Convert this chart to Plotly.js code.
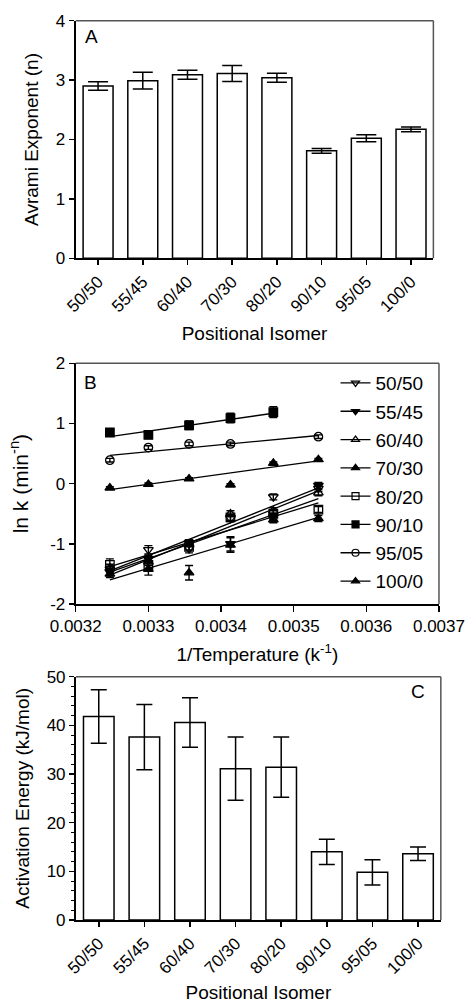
<!DOCTYPE html>
<html>
<head>
<meta charset="utf-8">
<script src="https://cdn.plot.ly/plotly-3.0.1.min.js"></script>
<style>html,body{margin:0;padding:0;background:#fff;}#chart{width:466px;height:1003px;}</style>
</head>
<body>
<div id="chart"></div>
<script>
// ---- Data ----
const isomers = ['50/50','55/45','60/40','70/30','80/20','90/10','95/05','100/0'];
const avrami = [2.90, 2.99, 3.09, 3.11, 3.04, 1.81, 2.02, 2.17];
const avramiErr = [0.07, 0.14, 0.075, 0.135, 0.075, 0.04, 0.06, 0.04];
const actEnergy = [41.8, 37.6, 40.6, 31.1, 31.4, 14.0, 9.8, 13.6];
const actEnergyErr = [5.5, 6.7, 5.1, 6.5, 6.2, 2.6, 2.6, 1.4];

const invT = [0.003247, 0.0033, 0.003356, 0.003413, 0.003472, 0.003534];
const invT9010 = [0.003247, 0.0033, 0.003356, 0.003413, 0.003472];
const invT9505 = [0.003247, 0.0033, 0.003356, 0.003413, 0.003534];

const lnk5050 = [-1.42, -1.10, -1.08, -0.58, -0.22, -0.08];
const err5050 = [0.05, 0.07, 0.07, 0.05, 0.05, 0.05];
const lnk5545 = [-1.47, -1.25, -0.98, -1.00, -0.55, -0.03];
const err5545 = [0.06, 0.06, 0.05, 0.12, 0.05, 0.05];
const lnk6040 = [-1.40, -1.30, -1.00, -0.50, -0.45, -0.15];
const err6040 = [0.06, 0.06, 0.05, 0.05, 0.05, 0.05];
const lnk7030 = [-1.50, -1.42, -1.48, -1.02, -0.60, -0.58];
const err7030 = [0.06, 0.10, 0.12, 0.12, 0.05, 0.05];
const lnk8020 = [-1.35, -1.35, -1.05, -0.56, -0.50, -0.43];
const err8020 = [0.10, 0.06, 0.05, 0.05, 0.05, 0.05];
const lnk9010 = [0.85, 0.81, 0.97, 1.09, 1.19];
const err9010 = [0.05, 0.04, 0.07, 0.08, 0.09];
const lnk9505 = [0.39, 0.60, 0.66, 0.66, 0.78];
const err9505 = [0.03, 0.03, 0.03, 0.03, 0.03];
const lnk1000 = [-0.07, -0.01, 0.08, -0.02, 0.34, 0.40];
const err1000 = [0.02, 0.02, 0.02, 0.02, 0.02, 0.02];

// fitted line end values (at first and last temperature of each series)
const fit5050 = [-1.52, -0.12];
const fit5545 = [-1.45, -0.07];
const fit6040 = [-1.47, -0.25];
const fit7030 = [-1.60, -0.56];
const fit8020 = [-1.38, -0.32];
const fit9010 = [0.78, 1.17];
const fit9505 = [0.47, 0.80];
const fit1000 = [-0.10, 0.38];

const lnTickVals = [-2, -1, 0, 1, 2];
const lnTickText = ['-2', '-1', '0', '1', '2'];

// ---- Build ----
const FONT = 'Liberation Sans, Arial, sans-serif';
const series = [
  {name:'50/50', x:invT, y:lnk5050, e:err5050, fit:fit5050, sym:'triangle-down-open'},
  {name:'55/45', x:invT, y:lnk5545, e:err5545, fit:fit5545, sym:'triangle-down'},
  {name:'60/40', x:invT, y:lnk6040, e:err6040, fit:fit6040, sym:'triangle-up-open'},
  {name:'70/30', x:invT, y:lnk7030, e:err7030, fit:fit7030, sym:'triangle-up'},
  {name:'80/20', x:invT, y:lnk8020, e:err8020, fit:fit8020, sym:'square-open'},
  {name:'90/10', x:invT9010, y:lnk9010, e:err9010, fit:fit9010, sym:'square'},
  {name:'95/05', x:invT9505, y:lnk9505, e:err9505, fit:fit9505, sym:'circle-open'},
  {name:'100/0', x:invT, y:lnk1000, e:err1000, fit:fit1000, sym:'triangle-up'}
];

const traces = [];
traces.push({
  type:'bar', x:isomers, y:avrami, xaxis:'x', yaxis:'y', width:0.67,
  marker:{color:'#fff', line:{color:'#000', width:1.5}},
  error_y:{type:'data', array:avramiErr, visible:true, color:'#000', thickness:1.5, width:10},
  showlegend:false, hoverinfo:'none'
});
series.forEach(s => {
  traces.push({
    type:'scatter', mode:'lines', xaxis:'x2', yaxis:'y2',
    x:[s.x[0], s.x[s.x.length-1]], y:s.fit,
    line:{color:'#000', width:1.3}, showlegend:false, hoverinfo:'none'
  });
});
series.forEach(s => {
  traces.push({
    type:'scatter', mode:'markers', xaxis:'x2', yaxis:'y2',
    x:s.x, y:s.y,
    marker:{symbol:s.sym, size:8.5, color:'#000', line:{color:'#000', width:1.3}},
    error_y:{type:'data', array:s.e, visible:true, color:'#000', thickness:1.4, width:4},
    showlegend:false, hoverinfo:'none'
  });
});
series.forEach(s => {
  traces.push({
    type:'scatter', mode:'lines+markers', xaxis:'x2', yaxis:'y2',
    x:[null], y:[null], name:s.name, legendgroup:s.name,
    marker:{symbol:s.sym, size:7, color:'#000', line:{color:'#000', width:1.2}},
    line:{color:'#000', width:1.3}, showlegend:true
  });
});
traces.push({
  type:'bar', x:isomers, y:actEnergy, xaxis:'x3', yaxis:'y3', width:0.67,
  marker:{color:'#fff', line:{color:'#000', width:1.5}},
  error_y:{type:'data', array:actEnergyErr, visible:true, color:'#000', thickness:1.5, width:8},
  showlegend:false, hoverinfo:'none'
});

const tickFont = {family:FONT, size:17, color:'#000'};
const titleFont = {family:FONT, size:19, color:'#000'};
const axBase = {showgrid:false, zeroline:false, showline:true, linecolor:'#000', linewidth:2,
  ticks:'outside', ticklen:5, tickwidth:1.5, tickcolor:'#000', tickfont:tickFont, automargin:false};

function boxShapes(xr, yr) {
  return [
    {type:'line', xref:xr+' domain', yref:yr+' domain', x0:0, x1:1, y0:1, y1:1, line:{color:'#555', width:1.5}},
    {type:'line', xref:xr+' domain', yref:yr+' domain', x0:1, x1:1, y0:0, y1:1, line:{color:'#555', width:1.5}}
  ];
}

const layout = {
  width:466, height:1003, margin:{l:0, r:0, t:0, b:0},
  paper_bgcolor:'#fff', plot_bgcolor:'#fff',
  font:{family:FONT, color:'#000'},
  showlegend:true,
  legend:{x:0.72, y:0.637, xanchor:'left', yanchor:'top', bgcolor:'rgba(0,0,0,0)',
    font:{family:FONT, size:19, color:'#000'}, traceorder:'grouped', tracegroupgap:0.6, itemwidth:30},
  xaxis:Object.assign({}, axBase, {domain:[0.1625, 0.930], anchor:'y', type:'category', range:[-0.5, 7.5],
    tickangle:-45, title:{text:'Positional Isomer', font:titleFont, standoff:12}}),
  yaxis:Object.assign({}, axBase, {domain:[0.7425, 0.9794], anchor:'x', range:[0, 4], dtick:1,
    title:{text:'Avrami Exponent (n)', font:titleFont, standoff:12}}),
  xaxis2:Object.assign({}, axBase, {domain:[0.1625, 0.942], anchor:'y2', range:[0.0032, 0.0037], dtick:0.0001,
    tickformat:'.4f', ticklen:6, title:{text:'1/Temperature (k<sup>-1</sup>)', font:titleFont, standoff:12}}),
  yaxis2:Object.assign({}, axBase, {domain:[0.3978, 0.6378], anchor:'x2', range:[-2, 2],
    tickmode:'array', tickvals:lnTickVals, ticktext:lnTickText,
    title:{text:'ln k (min<sup>-n</sup>)', font:{family:FONT, size:21, color:'#000'}, standoff:16}}),
  xaxis3:Object.assign({}, axBase, {domain:[0.163, 0.946], anchor:'y3', type:'category', range:[-0.5, 7.5],
    tickangle:-45, title:{text:'Positional Isomer', font:titleFont, standoff:12}}),
  yaxis3:Object.assign({}, axBase, {domain:[0.0828, 0.3253], anchor:'x3', range:[0, 50], dtick:10,
    minor:{dtick:2, ticks:'outside', ticklen:3, tickwidth:1, tickcolor:'#000'},
    title:{text:'Activation Energy (kJ/mol)', font:titleFont, standoff:12}}),
  shapes:[].concat(boxShapes('x','y'), boxShapes('x2','y2'), boxShapes('x3','y3')),
  annotations:[
    {text:'A', xref:'paper', yref:'paper', x:0.178, y:0.9636, xanchor:'left', yanchor:'middle', showarrow:false, font:{family:FONT, size:19, color:'#000'}},
    {text:'B', xref:'paper', yref:'paper', x:0.176, y:0.6186, xanchor:'left', yanchor:'middle', showarrow:false, font:{family:FONT, size:19, color:'#000'}},
    {text:'C', xref:'paper', yref:'paper', x:0.878, y:0.311, xanchor:'left', yanchor:'middle', showarrow:false, font:{family:FONT, size:19, color:'#000'}}
  ]
};

Plotly.newPlot('chart', traces, layout, {staticPlot:true, displayModeBar:false});
</script>
</body>
</html>
